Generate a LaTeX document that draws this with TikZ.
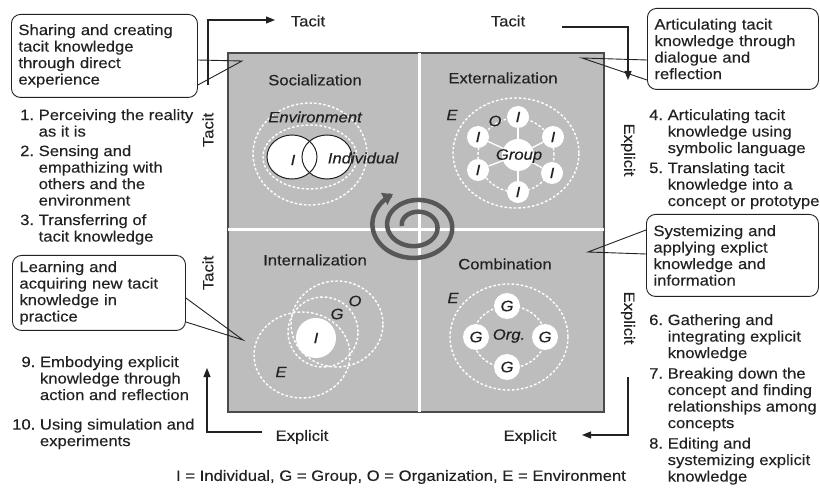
\documentclass[tikz,border=0pt]{standalone}
\usepackage{fontspec}
\setmainfont{Liberation Sans}[FakeStretch=1.11, FakeBold=0.3]
\usetikzlibrary{calc}
\usetikzlibrary{arrows.meta}

\definecolor{ink}{HTML}{222222}
\definecolor{quad}{HTML}{BDBDBD}
\definecolor{frame}{HTML}{4A4A4A}
\definecolor{swirl}{HTML}{575757}

\begin{document}
\begin{tikzpicture}[x=1pt, y=-1pt,
    txt/.style={font=\fontsize{15}{16.5}\selectfont\frenchspacing, text=ink, inner sep=0pt},
    itx/.style={txt, font=\fontsize{15}{16.5}\selectfont\itshape},
    callout/.style={txt, draw=ink, line width=0.9pt, fill=white, rounded corners=9pt, align=left, inner xsep=7pt, anchor=north west},
    pointer/.style={draw=ink, line width=0.9pt},
    ring/.style={draw=white, line width=1.4pt, dash pattern=on 2.6pt off 2pt},
    unit/.style={circle, fill=white, inner sep=0pt, minimum size=22pt, text=ink, font=\fontsize{15}{16.5}\selectfont\itshape},
    spoke/.style={draw=white, line width=1.3pt},
    flow/.style={draw=ink, line width=1.1pt, -{Triangle[length=9pt,width=7pt]}},
    list/.style={txt, align=left, anchor=north west}]
    \useasboundingbox (0,0) rectangle (820,489);

    \draw[fill=quad, draw=frame, line width=1.4pt] (228,53) rectangle (604,412);
    \draw[white, line width=3pt] (419,53) -- (419,412);
    \draw[white, line width=3pt] (228,230) -- (604,230);

    \node[txt] (soc) at (315,80) {Socialization};
    \node[txt] (ext) at (503,78) {Externalization};
    \node[txt] (int) at (315,260) {Internalization};
    \node[txt] (com) at (505,264) {Combination};

    \draw[ring] (310,154) ellipse (57pt and 51pt);
    \draw[ring] (310,157) ellipse (47pt and 32pt);
    \fill[white] (292,157) ellipse (25pt and 22pt);
    \fill[white] (327,157) ellipse (25pt and 22pt);
    \draw[ink, line width=1pt] (292,157) ellipse (25pt and 22pt);
    \draw[ink, line width=1pt] (327,157) ellipse (25pt and 22pt);
    \node[itx] (envS) at (315,117) {Environment};
    \node[itx] (iS) at (293,160) {I};
    \node[itx] (indS) at (363,158) {Individual};

    \draw[ring] (516,153) ellipse (63pt and 55pt);
    \draw[ring] (516,155) ellipse (38pt and 37pt);
    \node[unit, minimum size=32pt] (hub) at (518,155) {};
    \foreach \px/\py [count=\k] in {518/117, 553/137, 552/173, 518/192, 478/170, 478/137} {
        \node[unit] (ie\k) at (\px,\py) {I};
    }
    \foreach \k in {1,...,6} {
        \draw[spoke] (hub) -- (ie\k);
    }
    \node[itx] (grp) at (519,156) {Group};
    \node[itx] (oE) at (495,121) {O};
    \node[itx] (eE) at (452,115) {E};

    \draw[ring] (302,355) ellipse (48pt and 43pt);
    \draw[ring] (323,332) ellipse (35pt and 35pt);
    \draw[ring] (337,324) ellipse (46pt and 43pt);
    \node[unit, minimum size=40pt] (iI) at (316,338) {I};
    \node[itx] (gI) at (337,314) {G};
    \node[itx] (oI) at (355,301) {O};
    \node[itx] (eI) at (281,372) {E};

    \draw[ring] (509,337) ellipse (59pt and 53pt);
    \draw[ring] (509,337) ellipse (36pt and 31pt);
    \foreach \px/\py [count=\k] in {507/306, 476/337, 545/337, 507/367} {
        \node[unit, minimum size=26pt] (gc\k) at (\px,\py) {G};
    }
    \node[itx] (org) at (509,336) {Org.};
    \node[itx] (eC) at (453,298) {E};

    \draw[swirl, line width=4.5pt, -{Triangle[length=10pt,width=13pt]}] plot[domain=180:960, samples=240, smooth] ({416+(14+(\x-180)/780*32)*cos(\x)}, {226+0.8*(14+(\x-180)/780*32)*sin(\x)});

    \node[txt] (tT1) at (308,21) {Tacit};
    \node[txt] (tT2) at (508,21) {Tacit};
    \node[txt] (eB1) at (302,437) {Explicit};
    \node[txt] (eB2) at (530,437) {Explicit};
    \node[txt, rotate=90] (tL1) at (208,130) {Tacit};
    \node[txt, rotate=90] (tL2) at (208,273) {Tacit};
    \node[txt, rotate=-90] (eR1) at (628,150) {Explicit};
    \node[txt, rotate=-90] (eR2) at (628,318) {Explicit};

    \coordinate (a1) at (208,85);
    \coordinate (b1) at (275,20);
    \coordinate (a2) at (562,27);
    \coordinate (b2) at (628,80);
    \coordinate (a3) at (628,377);
    \coordinate (b3) at (582,435);
    \coordinate (a4) at (262,432);
    \coordinate (b4) at (207,368);
    \draw[flow] (a1) |- (b1);
    \draw[flow] (a2) -| (b2);
    \draw[flow] (a3) |- (b3);
    \draw[flow] (a4) -| (b4);

    \node[callout, minimum width=186pt, minimum height=83pt, text width=172pt] (c1) at (11,14) {Sharing and creating\\tacit knowledge\\through direct\\experience};
    \node[callout, minimum width=171pt, minimum height=81pt, text width=157pt] (c2) at (647,8) {Articulating tacit\\knowledge through\\dialogue and\\reflection};
    \node[callout, minimum width=172pt, minimum height=82pt, text width=158pt] (c3) at (646,214) {Systemizing and\\applying explict\\knowledge and\\information};
    \node[callout, minimum width=173pt, minimum height=75pt, text width=159pt] (c4) at (12,255) {Learning and\\acquiring new tacit\\knowledge in\\practice};

    \coordinate (p1) at (242,61);
    \coordinate (p2) at (582,58);
    \coordinate (p3) at (588,252);
    \coordinate (p4) at (243,340);
    \draw[pointer] ($(c1.north east)+(0,46)$) -- (p1) -- ($(c1.north east)+(0,71)$);
    \draw[pointer] ($(c2.north west)+(0,52)$) -- (p2) -- ($(c2.north west)+(0,72)$);
    \draw[pointer] ($(c3.north west)+(0,16)$) -- (p3) -- ($(c3.north west)+(0,40)$);
    \draw[pointer] ($(c4.north east)+(0,43)$) -- (p4) -- ($(c4.north east)+(0,67)$);

    \node[list] (l1) at (20,109) {1. Perceiving the reality\\\hphantom{1. }as it is\\[3pt]2. Sensing and\\\hphantom{2. }empathizing with\\\hphantom{2. }others and the\\\hphantom{2. }environment\\[3pt]3. Transferring of\\\hphantom{3. }tacit knowledge};
    \node[list] (l2) at (12,356) {\hphantom{1}9. Embodying explicit\\\hphantom{10. }knowledge through\\\hphantom{10. }action and reflection\\[13pt]10. Using simulation and\\\hphantom{10. }experiments};
    \node[list] (l3) at (649,109) {4. Articulating tacit\\\hphantom{4. }knowledge using\\\hphantom{4. }symbolic language\\[3.5pt]5. Translating tacit\\\hphantom{5. }knowledge into a\\\hphantom{5. }concept or prototype};
    \node[list] (l4) at (649,314) {6. Gathering and\\\hphantom{6. }integrating explicit\\\hphantom{6. }knowledge\\[4pt]7. Breaking down the\\\hphantom{7. }concept and finding\\\hphantom{7. }relationships among\\\hphantom{7. }concepts\\[4pt]8. Editing and\\\hphantom{8. }systemizing explicit\\\hphantom{8. }knowledge};

    \node[txt] (key) at (401,477) {I = Individual, G = Group, O = Organization, E = Environment};
\end{tikzpicture}
\end{document}
